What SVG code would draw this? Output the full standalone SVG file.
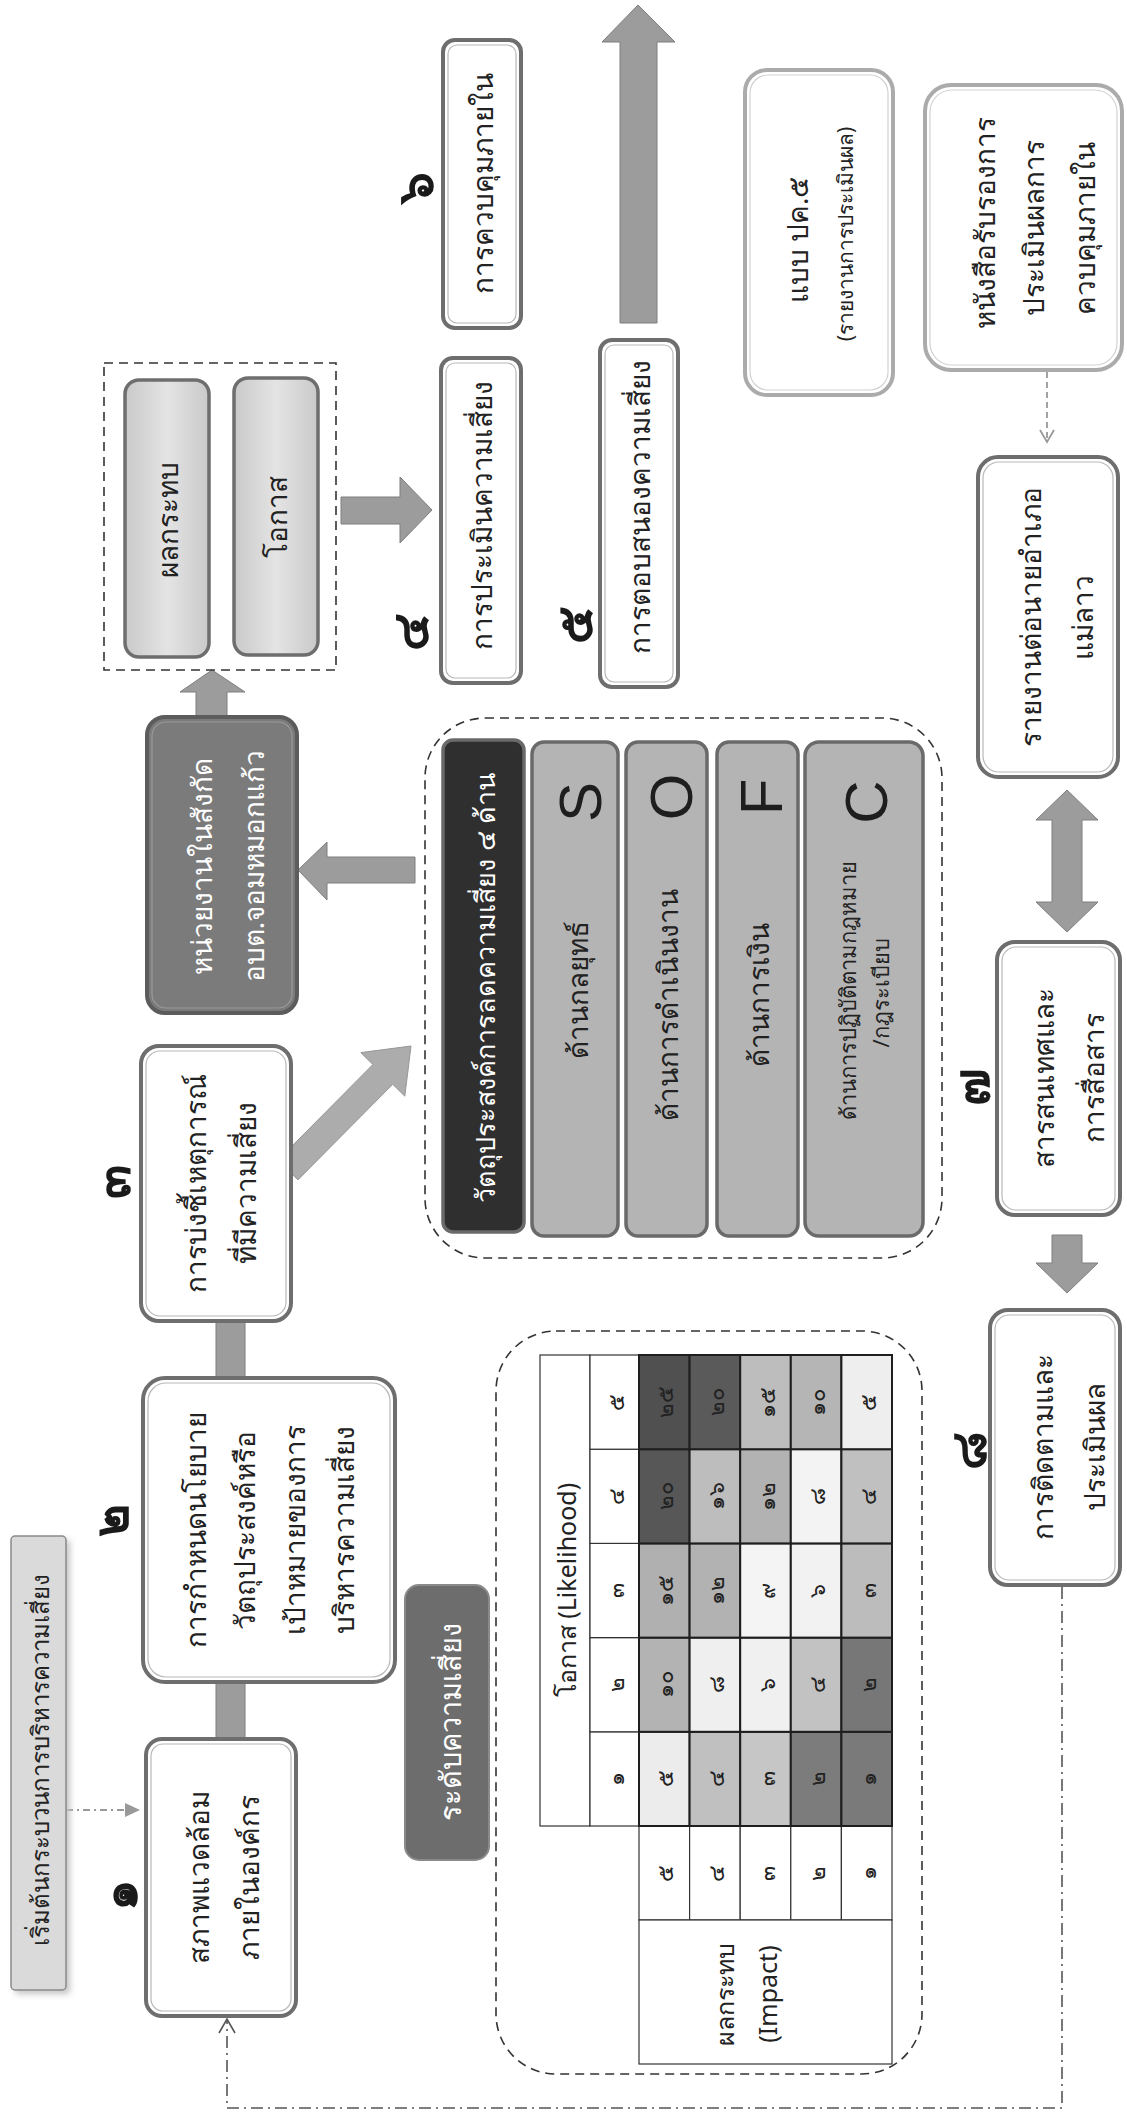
<svg xmlns="http://www.w3.org/2000/svg" width="1127" height="2120" viewBox="0 0 1127 2120">
<defs>
<style>
.t{font-family:"Noto Sans","DejaVu Sans",sans-serif;font-size:28px;fill:#222;text-anchor:middle;dominant-baseline:central}
.w{fill:#fff}
.s{font-size:21px}
.m{font-size:22px}
.c{font-size:22px}
.h{font-size:25px}
.num{font-size:50px;font-weight:bold;fill:#1a1a1a}
.box{fill:#fff;stroke:#6e6e6e;stroke-width:4}
.in{fill:none;stroke:#b8b8b8;stroke-width:1.2}
.lbox{fill:#fff;stroke:#ababab;stroke-width:4}
.lin{fill:none;stroke:#d2d2d2;stroke-width:1.2}
.arr{fill:#9c9c9c;stroke:#7e7e7e;stroke-width:1}
.dash{fill:none;stroke:#333;stroke-width:1.6;stroke-dasharray:9 6}
.bar{fill:#b4b4b4;stroke:#6a6a6a;stroke-width:3.5}
.cell{stroke:#1e1e1e;stroke-width:2}
.th{fill:#fff;stroke:#333;stroke-width:1.2}
.big{font-family:"Liberation Sans",Arial,sans-serif;font-size:60px;fill:#1e1e1e;text-anchor:middle;dominant-baseline:central}
</style>
<linearGradient id="pill" x1="0" y1="0" x2="1" y2="0">
<stop offset="0" stop-color="#c9c9c9"/><stop offset="0.5" stop-color="#e4e4e4"/><stop offset="1" stop-color="#c9c9c9"/>
</linearGradient>
<filter id="sh" x="-20%" y="-5%" width="150%" height="115%"><feGaussianBlur stdDeviation="3"/></filter>
</defs>
<rect x="0" y="0" width="1127" height="2120" fill="#fff"/>

<g id="connectors">
<line x1="66" y1="1810" x2="126" y2="1810" stroke="#999" stroke-width="2" stroke-dasharray="7 4 2 4"/>
<polygon points="140,1810 125,1803 125,1817" fill="#999"/>
<rect class="arr" x="216" y="1680" width="29" height="61"/>
<rect class="arr" x="216" y="1319" width="29" height="61"/>
<polygon fill="#acacac" stroke="#979797" points="297.9,1179.9 392.7,1084.3 404.8,1096.2 411,1046 360.8,1052.6 372.9,1064.5 278.1,1160.1"/>
<polygon class="arr" points="298,870 327,842 327,857 415,857 415,883 327,883 327,900"/>
<polygon class="arr" points="212,670 245,692 227,692 227,716 196,716 196,692 180,692"/>
<polygon class="arr" points="341,497 400,497 400,477 432,510 400,543 400,524 341,524"/>
<polygon class="arr" points="620,323 620,42 602,42 638,5 675,42 657,42 657,323"/>
<line x1="1047" y1="372" x2="1047" y2="440" stroke="#999" stroke-width="1.8" stroke-dasharray="6 4"/>
<polyline points="1040,430 1047,442 1054,430" fill="none" stroke="#999" stroke-width="1.8"/>
<polygon class="arr" points="1067,790 1098,820 1082,820 1082,902 1098,902 1067,932 1036,902 1052,902 1052,820 1036,820"/>
<polygon class="arr" points="1052,1235 1082,1235 1082,1263 1098,1263 1067,1293 1036,1263 1052,1263"/>
<path d="M1062,1587 V2108 H227 V2020" fill="none" stroke="#555" stroke-width="1.6" stroke-dasharray="12 5 2 5"/>
<polyline points="219,2033 227,2019 235,2033" fill="none" stroke="#555" stroke-width="1.6"/>
</g>

<g id="node-start">
<rect x="15" y="1540" width="55" height="454" rx="4" fill="#c4c4c4" filter="url(#sh)"/>
<rect x="11" y="1536" width="55" height="454" rx="4" fill="#dadada" stroke="#8a8a8a" stroke-width="1.5"/>
<text class="t" transform="translate(39,1760) rotate(-90)" style="font-size:24px">เริ่มต้นกระบวนการบริหารความเสี่ยง</text>
</g>

<g id="node-1">
<rect class="box" x="146" y="1739" width="150" height="277" rx="16"/>
<rect class="in" x="151" y="1744" width="140" height="267" rx="12"/>
<text class="t" transform="translate(198,1877) rotate(-90)">สภาพแวดล้อม</text>
<text class="t" transform="translate(248,1877) rotate(-90)">ภายในองค์กร</text>
<text class="t num" transform="translate(118,1895) rotate(-90)">๑</text>
</g>

<g id="node-2">
<rect class="box" x="143" y="1378" width="252" height="304" rx="22"/>
<rect class="in" x="148" y="1383" width="242" height="294" rx="18"/>
<text class="t" transform="translate(195,1530) rotate(-90)">การกำหนดนโยบาย</text>
<text class="t" transform="translate(244,1530) rotate(-90)">วัตถุประสงค์หรือ</text>
<text class="t" transform="translate(294,1530) rotate(-90)">เป้าหมายของการ</text>
<text class="t" transform="translate(343,1530) rotate(-90)">บริหารความเสี่ยง</text>
<text class="t num" transform="translate(109,1520) rotate(-90)">๒</text>
</g>

<g id="node-3">
<rect class="box" x="141" y="1046" width="150" height="275" rx="18"/>
<rect class="in" x="146" y="1051" width="140" height="265" rx="14"/>
<text class="t" transform="translate(195,1183) rotate(-90)">การบ่งชี้เหตุการณ์</text>
<text class="t" transform="translate(245,1183) rotate(-90)">ที่มีความเสี่ยง</text>
<text class="t num" transform="translate(111,1182) rotate(-90)">๓</text>
</g>

<g id="node-unit">
<rect x="147" y="717" width="150" height="296" rx="18" fill="#7b7b7b" stroke="#5c5c5c" stroke-width="4"/>
<rect x="152" y="722" width="140" height="286" rx="14" fill="none" stroke="#9a9a9a" stroke-width="1.2"/>
<text class="t w" transform="translate(201,866) rotate(-90)">หน่วยงานในสังกัด</text>
<text class="t w" transform="translate(253,866) rotate(-90)">อบต.จอมหมอกแก้ว</text>
</g>

<g id="group-impact-chance">
<rect class="dash" x="104" y="363" width="232" height="307"/>
<g id="node-impact">
<rect x="125" y="380" width="84" height="277" rx="14" fill="url(#pill)" stroke="#6e6e6e" stroke-width="3.5"/>
<text class="t" transform="translate(167,520) rotate(-90)">ผลกระทบ</text>
</g>
<g id="node-chance">
<rect x="234" y="378" width="84" height="277" rx="14" fill="url(#pill)" stroke="#6e6e6e" stroke-width="3.5"/>
<text class="t" transform="translate(276,517) rotate(-90)">โอกาส</text>
</g>
</g>

<g id="node-4">
<rect class="box" x="441" y="358" width="80" height="325" rx="12"/>
<rect class="in" x="446" y="363" width="70" height="315" rx="9"/>
<text class="t" transform="translate(481,515) rotate(-90)">การประเมินความเสี่ยง</text>
<text class="t num" transform="translate(409,632) rotate(-90)">๔</text>
</g>

<g id="node-6">
<rect class="box" x="443" y="40" width="78" height="288" rx="12"/>
<rect class="in" x="448" y="45" width="68" height="278" rx="9"/>
<text class="t" transform="translate(482,183) rotate(-90)">การควบคุมภายใน</text>
<text class="t num" transform="translate(414,188) rotate(-90)">๖</text>
</g>

<g id="node-5">
<rect class="box" x="600" y="340" width="78" height="347" rx="12"/>
<rect class="in" x="605" y="345" width="68" height="337" rx="9"/>
<text class="t" transform="translate(639,507) rotate(-90)">การตอบสนองความเสี่ยง</text>
<text class="t num" transform="translate(573,625) rotate(-90)">๕</text>
</g>

<g id="node-pk5">
<rect class="lbox" x="745" y="70" width="148" height="325" rx="22"/>
<rect class="lin" x="750" y="75" width="138" height="315" rx="18"/>
<text class="t" transform="translate(797,240) rotate(-90)">แบบ ปค.๕</text>
<text class="t s" transform="translate(845,234) rotate(-90)">(รายงานการประเมินผล)</text>
</g>

<g id="node-cert">
<rect class="lbox" x="925" y="85" width="197" height="285" rx="26"/>
<rect class="lin" x="930" y="90" width="187" height="275" rx="22"/>
<text class="t" transform="translate(984,223) rotate(-90)">หนังสือรับรองการ</text>
<text class="t" transform="translate(1033,228) rotate(-90)">ประเมินผลการ</text>
<text class="t" transform="translate(1084,228) rotate(-90)">ควบคุมภายใน</text>
</g>

<g id="node-report">
<rect class="box" x="978" y="457" width="140" height="320" rx="20"/>
<rect class="in" x="983" y="462" width="130" height="310" rx="16"/>
<text class="t" transform="translate(1030,617) rotate(-90)">รายงานต่อนายอำเภอ</text>
<text class="t" transform="translate(1082,617) rotate(-90)">แม่ลาว</text>
</g>

<g id="node-7">
<rect class="box" x="997" y="942" width="123" height="273" rx="18"/>
<rect class="in" x="1002" y="947" width="113" height="263" rx="14"/>
<text class="t" transform="translate(1043,1078) rotate(-90)">สารสนเทศและ</text>
<text class="t" transform="translate(1093,1078) rotate(-90)">การสื่อสาร</text>
<text class="t num" transform="translate(970,1087) rotate(-90)">๗</text>
</g>

<g id="node-8">
<rect class="box" x="990" y="1310" width="130" height="275" rx="18"/>
<rect class="in" x="995" y="1315" width="120" height="265" rx="14"/>
<text class="t" transform="translate(1042,1447) rotate(-90)">การติดตามและ</text>
<text class="t" transform="translate(1094,1447) rotate(-90)">ประเมินผล</text>
<text class="t num" transform="translate(967,1450) rotate(-90)">๘</text>
</g>

<g id="node-level">
<rect x="405" y="1585" width="84" height="275" rx="14" fill="#6d6d6d" stroke="#8a8a8a" stroke-width="2"/>
<text class="t w" transform="translate(449,1722) rotate(-90)" style="font-size:29px">ระดับความเสี่ยง</text>
</g>

<g id="group-objectives">
<rect class="dash" x="425" y="718" width="517" height="540" rx="60"/>
<g id="node-title">
<rect x="443" y="740" width="81" height="492" rx="10" fill="#2f2f2f" stroke="#6a6a6a" stroke-width="3.5"/>
<text class="t w" transform="translate(484,988) rotate(-90)" style="font-size:27px">วัตถุประสงค์การลดความเสี่ยง ๔ ด้าน</text>
</g>
<g id="node-S">
<rect class="bar" x="532" y="742" width="86" height="494" rx="12"/>
<text class="big" transform="translate(580,802) rotate(-90)">S</text>
<text class="t" transform="translate(577,990) rotate(-90)">ด้านกลยุทธ์</text>
</g>
<g id="node-O">
<rect class="bar" x="626" y="742" width="81" height="494" rx="12"/>
<text class="big" transform="translate(671,797) rotate(-90)">O</text>
<text class="t" transform="translate(667,1005) rotate(-90)">ด้านการดำเนินงาน</text>
</g>
<g id="node-F">
<rect class="bar" x="717" y="742" width="81" height="494" rx="12"/>
<text class="big" transform="translate(761,797) rotate(-90)">F</text>
<text class="t" transform="translate(758,995) rotate(-90)">ด้านการเงิน</text>
</g>
<g id="node-C">
<rect class="bar" x="805" y="742" width="118" height="494" rx="14"/>
<text class="big" transform="translate(866,802) rotate(-90)">C</text>
<text class="t m" transform="translate(847,990) rotate(-90)">ด้านการปฏิบัติตามกฎหมาย</text>
<text class="t m" transform="translate(880,993) rotate(-90)">/กฎระเบียบ</text>
</g>
</g>

<g id="group-matrix">
<rect class="dash" x="496" y="1331" width="426" height="743" rx="60"/>
<rect class="th" x="540" y="1355" width="50" height="471"/>
<text class="t h" transform="translate(566,1590) rotate(-90)">โอกาส (Likelihood)</text>
<rect class="th" x="590" y="1731.8" width="49" height="94.2"/><text class="t c" transform="translate(614.5,1778.9) rotate(-90)">๑</text>
<rect class="th" x="590" y="1637.6" width="49" height="94.2"/><text class="t c" transform="translate(614.5,1684.7) rotate(-90)">๒</text>
<rect class="th" x="590" y="1543.4" width="49" height="94.2"/><text class="t c" transform="translate(614.5,1590.5) rotate(-90)">๓</text>
<rect class="th" x="590" y="1449.2" width="49" height="94.2"/><text class="t c" transform="translate(614.5,1496.3) rotate(-90)">๔</text>
<rect class="th" x="590" y="1355" width="49" height="94.2"/><text class="t c" transform="translate(614.5,1402.1) rotate(-90)">๕</text>
<rect class="th" x="639" y="1826" width="50.6" height="94"/><text class="t c" transform="translate(664.3,1873) rotate(-90)">๕</text>
<rect class="th" x="689.6" y="1826" width="50.6" height="94"/><text class="t c" transform="translate(714.9,1873) rotate(-90)">๔</text>
<rect class="th" x="740.2" y="1826" width="50.6" height="94"/><text class="t c" transform="translate(765.5,1873) rotate(-90)">๓</text>
<rect class="th" x="790.8" y="1826" width="50.6" height="94"/><text class="t c" transform="translate(816.1,1873) rotate(-90)">๒</text>
<rect class="th" x="841.4" y="1826" width="50.6" height="94"/><text class="t c" transform="translate(866.7,1873) rotate(-90)">๑</text>
<rect class="th" x="639" y="1920" width="253" height="144"/>
<text class="t h" transform="translate(724,1994) rotate(-90)">ผลกระทบ</text>
<text class="t h" transform="translate(767,1994) rotate(-90)">(Impact)</text>

<rect class="cell" x="639" y="1731.8" width="50.6" height="94.2" fill="#ececec"/><text class="t c" transform="translate(664.3,1778.9) rotate(-90)">๕</text>
<rect class="cell" x="689.6" y="1731.8" width="50.6" height="94.2" fill="#c0c0c0"/><text class="t c" transform="translate(714.9,1778.9) rotate(-90)">๔</text>
<rect class="cell" x="740.2" y="1731.8" width="50.6" height="94.2" fill="#c6c6c6"/><text class="t c" transform="translate(765.5,1778.9) rotate(-90)">๓</text>
<rect class="cell" x="790.8" y="1731.8" width="50.6" height="94.2" fill="#7c7c7c"/><text class="t c" transform="translate(816.1,1778.9) rotate(-90)">๒</text>
<rect class="cell" x="841.4" y="1731.8" width="50.6" height="94.2" fill="#7a7a7a"/><text class="t c" transform="translate(866.7,1778.9) rotate(-90)">๑</text>

<rect class="cell" x="639" y="1637.6" width="50.6" height="94.2" fill="#b3b3b3"/><text class="t c" transform="translate(664.3,1684.7) rotate(-90)">๑๐</text>
<rect class="cell" x="689.6" y="1637.6" width="50.6" height="94.2" fill="#efefef"/><text class="t c" transform="translate(714.9,1684.7) rotate(-90)">๘</text>
<rect class="cell" x="740.2" y="1637.6" width="50.6" height="94.2" fill="#f0f0f0"/><text class="t c" transform="translate(765.5,1684.7) rotate(-90)">๖</text>
<rect class="cell" x="790.8" y="1637.6" width="50.6" height="94.2" fill="#c2c2c2"/><text class="t c" transform="translate(816.1,1684.7) rotate(-90)">๔</text>
<rect class="cell" x="841.4" y="1637.6" width="50.6" height="94.2" fill="#777777"/><text class="t c" transform="translate(866.7,1684.7) rotate(-90)">๒</text>

<rect class="cell" x="639" y="1543.4" width="50.6" height="94.2" fill="#b0b0b0"/><text class="t c" transform="translate(664.3,1590.5) rotate(-90)">๑๕</text>
<rect class="cell" x="689.6" y="1543.4" width="50.6" height="94.2" fill="#b2b2b2"/><text class="t c" transform="translate(714.9,1590.5) rotate(-90)">๑๒</text>
<rect class="cell" x="740.2" y="1543.4" width="50.6" height="94.2" fill="#f4f4f4"/><text class="t c" transform="translate(765.5,1590.5) rotate(-90)">๙</text>
<rect class="cell" x="790.8" y="1543.4" width="50.6" height="94.2" fill="#f2f2f2"/><text class="t c" transform="translate(816.1,1590.5) rotate(-90)">๖</text>
<rect class="cell" x="841.4" y="1543.4" width="50.6" height="94.2" fill="#bcbcbc"/><text class="t c" transform="translate(866.7,1590.5) rotate(-90)">๓</text>

<rect class="cell" x="639" y="1449.2" width="50.6" height="94.2" fill="#575757"/><text class="t c" transform="translate(664.3,1496.3) rotate(-90)">๒๐</text>
<rect class="cell" x="689.6" y="1449.2" width="50.6" height="94.2" fill="#bdbdbd"/><text class="t c" transform="translate(714.9,1496.3) rotate(-90)">๑๖</text>
<rect class="cell" x="740.2" y="1449.2" width="50.6" height="94.2" fill="#b2b2b2"/><text class="t c" transform="translate(765.5,1496.3) rotate(-90)">๑๒</text>
<rect class="cell" x="790.8" y="1449.2" width="50.6" height="94.2" fill="#f3f3f3"/><text class="t c" transform="translate(816.1,1496.3) rotate(-90)">๘</text>
<rect class="cell" x="841.4" y="1449.2" width="50.6" height="94.2" fill="#c0c0c0"/><text class="t c" transform="translate(866.7,1496.3) rotate(-90)">๔</text>

<rect class="cell" x="639" y="1355" width="50.6" height="94.2" fill="#505050"/><text class="t c" transform="translate(664.3,1402.1) rotate(-90)">๒๕</text>
<rect class="cell" x="689.6" y="1355" width="50.6" height="94.2" fill="#5a5a5a"/><text class="t c" transform="translate(714.9,1402.1) rotate(-90)">๒๐</text>
<rect class="cell" x="740.2" y="1355" width="50.6" height="94.2" fill="#bdbdbd"/><text class="t c" transform="translate(765.5,1402.1) rotate(-90)">๑๕</text>
<rect class="cell" x="790.8" y="1355" width="50.6" height="94.2" fill="#b5b5b5"/><text class="t c" transform="translate(816.1,1402.1) rotate(-90)">๑๐</text>
<rect class="cell" x="841.4" y="1355" width="50.6" height="94.2" fill="#eeeeee"/><text class="t c" transform="translate(866.7,1402.1) rotate(-90)">๕</text>
</g>
</svg>
